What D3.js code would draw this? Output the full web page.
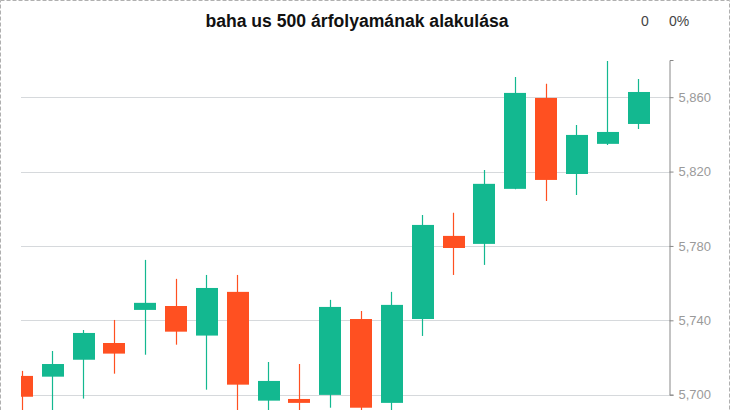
<!DOCTYPE html>
<html>
<head>
<meta charset="utf-8">
<script src="https://cdn.jsdelivr.net/npm/d3@7"></script>
<style>
html, body { margin: 0; padding: 0; background: #fff; overflow: hidden; }
svg { display: block; }
</style>
</head>
<body>
<div id="chart"></div>
<script>
const categories = ["1","2","3","4","5","6","7","8","9","10","11","12","13","14","15","16","17","18","19","20","21"];
const openVals  = [5710.1, 5709.7, 5718.8, 5727.8, 5745.6, 5747.7, 5731.8, 5755.3, 5696.8, 5697.7, 5699.9, 5740.7, 5695.6, 5740.7, 5785.4, 5781.1, 5810.7, 5859.6, 5818.7, 5834.9, 5845.6];
const highVals  = [5712.8, 5723.5, 5734.8, 5740.2, 5772.5, 5762.3, 5764.4, 5764.4, 5717.6, 5716.5, 5751.0, 5745.0, 5755.3, 5796.7, 5797.8, 5820.9, 5870.9, 5867.2, 5845.0, 5879.5, 5869.8];
const lowVals   = [5688.0, 5691.0, 5697.9, 5711.3, 5721.5, 5726.9, 5702.7, 5688.0, 5690.0, 5690.0, 5693.0, 5690.0, 5689.0, 5731.6, 5764.4, 5769.8, 5810.5, 5804.2, 5807.4, 5834.3, 5842.9];
const closeVals = [5698.9, 5716.5, 5733.2, 5722.1, 5749.4, 5733.9, 5757.4, 5705.4, 5707.4, 5695.6, 5747.2, 5693.0, 5748.3, 5791.3, 5778.9, 5813.4, 5862.3, 5815.5, 5839.7, 5841.3, 5862.8];
const yTicks = [5700, 5740, 5780, 5820, 5860];
const title = "baha us 500 árfolyamának alakulása";
const changeAbs = "0";
const changePct = "0%";

const W = 730, H = 410;
const UP = "#13b890", DOWN = "#ff5021";

const data = categories.map((c, i) => ({
  c, o: openVals[i], h: highVals[i], l: lowVals[i], cl: closeVals[i]
}));

const svg = d3.select("#chart").append("svg")
  .attr("width", W).attr("height", H);

// dashed frame
svg.append("rect")
  .attr("x", 0.5).attr("y", 0.5)
  .attr("width", 729).attr("height", 460)
  .attr("fill", "none")
  .attr("stroke", "#b0b0b0")
  .attr("stroke-dasharray", "4,2");

const plotLeft = 21, axisX = 669.5, plotTop = 60;

const x = d3.scalePoint().domain(categories).range([21.5, 638]);
const y = d3.scaleLinear().domain([5700, 5880]).range([394.7, 60]);

svg.append("defs").append("clipPath").attr("id", "plotclip")
  .append("rect").attr("x", plotLeft).attr("y", plotTop)
  .attr("width", axisX - plotLeft).attr("height", 500);

// gridlines
svg.append("g").selectAll("line").data(yTicks).join("line")
  .attr("x1", plotLeft).attr("x2", axisX)
  .attr("y1", d => Math.round(y(d)) + 0.5).attr("y2", d => Math.round(y(d)) + 0.5)
  .attr("stroke", "#d6d9dc").attr("stroke-width", 1);

const g = svg.append("g").attr("clip-path", "url(#plotclip)");
const bw = 22;

// wicks
g.selectAll("line.wick").data(data).join("line")
  .attr("class", "wick")
  .attr("x1", d => Math.round(x(d.c)) + 0.5)
  .attr("x2", d => Math.round(x(d.c)) + 0.5)
  .attr("y1", d => y(d.h)).attr("y2", d => y(d.l))
  .attr("stroke", d => d.cl >= d.o ? UP : DOWN)
  .attr("stroke-width", 1.2);

// bodies
g.selectAll("rect.body").data(data).join("rect")
  .attr("class", "body")
  .attr("x", d => Math.round(x(d.c) - bw / 2 + 0.5))
  .attr("width", bw)
  .attr("y", d => y(Math.max(d.o, d.cl)))
  .attr("height", d => Math.max(1, Math.abs(y(d.o) - y(d.cl))))
  .attr("fill", d => d.cl >= d.o ? UP : DOWN);

// right axis
const axis = d3.axisRight(y).tickValues(yTicks).tickSize(4).tickSizeOuter(4).tickPadding(5)
  .tickFormat(d3.format(","));
const ag = svg.append("g").attr("transform", `translate(${axisX},0)`).call(axis);
ag.select(".domain").attr("stroke", "#888");
ag.selectAll(".tick line").attr("stroke", "#888");
ag.selectAll(".tick text")
  .attr("fill", "#9a9a9a")
  .attr("font-family", "'Liberation Sans', Arial, sans-serif")
  .attr("font-size", 13);

// title
svg.append("text")
  .attr("x", 357).attr("y", 27)
  .attr("text-anchor", "middle")
  .attr("font-family", "'Liberation Sans', Arial, sans-serif")
  .attr("font-weight", "bold")
  .attr("font-size", 17.6)
  .attr("fill", "#111")
  .text(title);

svg.append("text")
  .attr("x", 645).attr("y", 26)
  .attr("text-anchor", "middle")
  .attr("font-family", "'Liberation Sans', Arial, sans-serif")
  .attr("font-size", 14)
  .attr("fill", "#444")
  .text(changeAbs);

svg.append("text")
  .attr("x", 669).attr("y", 26)
  .attr("font-family", "'Liberation Sans', Arial, sans-serif")
  .attr("font-size", 14)
  .attr("fill", "#444")
  .text(changePct);
</script>
</body>
</html>
